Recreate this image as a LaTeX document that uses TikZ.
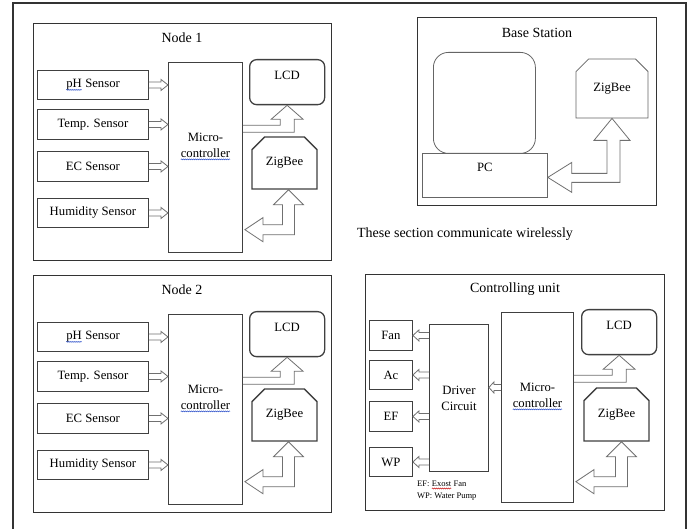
\documentclass[tikz,border=0pt]{standalone}
\usepackage{fontspec}
\setmainfont{Liberation Serif}
\usetikzlibrary{calc,shapes.misc,decorations.pathmorphing}
\definecolor{lc}{HTML}{333333}
\definecolor{bc}{HTML}{404040}
\definecolor{ac}{HTML}{707070}
\definecolor{spb}{HTML}{3355CC}
\definecolor{spr}{HTML}{CC2222}
\newcommand{\fs}{\fontsize{12.7}{16}\selectfont}
\newcommand{\ft}{\fontsize{14}{17}\selectfont}
\newcommand{\fl}{\fontsize{8.5}{11}\selectfont}
\newcommand{\wavy}[2]{\tikz[baseline=(w.base),x=1pt,y=1pt]{\node[shape=rectangle,draw=none,fill=none,inner sep=0pt,outer sep=0pt,minimum width=0pt,minimum height=0pt,anchor=base,rounded corners=0pt](w){#2};\draw[draw=#1,line width=0.5pt,decorate,decoration={snake,amplitude=0.5pt,segment length=2pt}]($(w.base west)+(0,-2.2)$)--($(w.base east)+(0,-2.2)$);}}
\tikzset{
  frame/.style={draw=lc,line width=1.2pt,inner sep=0pt,anchor=north west},
  box/.style={draw=bc,line width=0.9pt,inner sep=0pt,anchor=north west,font=\fs},
  lcdbox/.style={box,line width=1.3pt,rounded corners=7pt},
  zigbox/.style={box,line width=1.4pt,shape=chamfered rectangle,chamfered rectangle corners={north west,north east},chamfered rectangle xsep=7pt,chamfered rectangle ysep=7pt,anchor=center},
  thinbox/.style={box,draw=ac!90!black,line width=0.8pt},
  txt/.style={inner sep=0pt,font=\fs,align=center},
  ttl/.style={inner sep=0pt,font=\ft},
  barrow/.style={draw=ac,line width=0.8pt,line join=miter}
}
% straight hollow arrow: tail, tip, signed head length
\newcommand{\harr}[3]{\draw[barrow] ($(#1)+(0,-3)$) -- ($(#2)+(#3,-3)$) -- ($(#2)+(#3,-5.5)$) -- (#2) -- ($(#2)+(#3,5.5)$) -- ($(#2)+(#3,3)$) -- ($(#1)+(0,3)$);}
% L arrow from microcontroller up to LCD
\newcommand{\lcdarr}[2]{%
  \coordinate (la) at ($(#2.south)+(0,20)$);
  \coordinate (lb) at ($(#2.south)+(0,27)$);
  \coordinate (lam) at (la -| #1.east);
  \coordinate (lbm) at (lb -| #1.east);
  \draw[barrow] (lam) -- ($(#2.south)+(-7,20)$) -- ($(#2.south)+(-7,14)$) -- ($(#2.south)+(-16,14)$) -- (#2.south) -- ($(#2.south)+(16,14)$) -- ($(#2.south)+(7,14)$) -- ($(#2.south)+(7,27)$) -- (lbm);}
% double L arrow between ZigBee and microcontroller
\newcommand{\zigarr}[3]{%
  \coordinate (zt) at ($(#2.south)+(#3,0)$);
  \coordinate (zm) at (zt -| #1.east);
  \coordinate (zl) at ($(zm)+(2,40)$);
  \draw[barrow] (zl) -- ($(zl)+(18,-12)$) -- ($(zl)+(18,-5)$) -- ($(zt)+(-6,35)$) -- ($(zt)+(-6,15)$) -- ($(zt)+(-15,15)$) -- (zt) -- ($(zt)+(15,15)$) -- ($(zt)+(6,15)$) -- ($(zt)+(6,45)$) -- ($(zl)+(18,5)$) -- ($(zl)+(18,12)$) -- cycle;}
% sensor node group
\newcommand{\sensorgroup}[1]{%
  \node[frame,minimum width=298,minimum height=237] (fr) at (33,23) {};
  \node[ttl] (ti) at (182,38) {#1};
  \node[box,minimum width=111,minimum height=29] (s1) at (37,70) {\wavy{spb}{pH} Sensor};
  \node[box,minimum width=111,minimum height=30] (s2) at (37,109) {Temp. Sensor};
  \node[box,minimum width=111,minimum height=30] (s3) at (37,151) {EC Sensor};
  \node[box,minimum width=111,minimum height=29] (s4) at (37,198) {Humidity Sensor};
  \node[box,minimum width=74,minimum height=190] (mcu) at (168,62) {};
  \node[txt] (mt) at ($(mcu.center)+(0,-11)$) {Micro-\\\wavy{spb}{controller}};
  \node[lcdbox,minimum width=75,minimum height=45] (lcd) at (249,59) {};
  \node[txt] (lt) at ($(lcd.north)+(0,16)$) {LCD};
  \node[zigbox,minimum width=65,minimum height=52] (zig) at (284.5,163) {ZigBee};
  \foreach \i in {1,2,3,4}{
    \coordinate (t\i) at (s\i.east -| mcu.west);
    \harr{s\i.east}{t\i}{-7}
  }
  \lcdarr{mcu}{lcd}
  \zigarr{mcu}{zig}{4}
}
\begin{document}
\begin{tikzpicture}[x=1pt,y=-1pt]
\useasboundingbox (0,0) rectangle (691,529);
\fill[white] (0,0) rectangle (691,529);
% outer frame
\draw[draw=lc,line width=1.1pt] (13,529) -- (13,3) -- (686,3) -- (686,529);

\begin{scope}[name prefix=n1-]
  \sensorgroup{Node 1}
\end{scope}
\begin{scope}[shift={(0,252)},name prefix=n2-]
  \sensorgroup{Node 2}
\end{scope}

% base station
\node[frame,minimum width=239,minimum height=188] (bsf) at (417,17) {};
\node[ttl] (bst) at (537,33) {Base Station};
\node[thinbox,rounded corners=15pt,minimum width=102,minimum height=101] (mon) at (433,52) {};
\node[thinbox,minimum width=125,minimum height=44] (pc) at (422,153) {};
\node[txt] (pct) at ($(pc.center)+(0,-8)$) {PC};
\node[zigbox,draw=ac!90!black,line width=0.8pt,minimum width=72,minimum height=59] (bzig) at (612,88.5) {ZigBee};
\coordinate (bz) at (bzig.south);
\coordinate (pa) at ($(pc.east)+(0,2)$);
\draw[barrow] (pa) -- ($(pa)+(24,-15)$) -- ($(pa)+(24,-4)$) -- ($(bz)+(-5,55)$) -- ($(bz)+(-5,22)$) -- ($(bz)+(-18,22)$) -- (bz) -- ($(bz)+(18,22)$) -- ($(bz)+(8,22)$) -- ($(bz)+(8,64)$) -- ($(pa)+(24,5)$) -- ($(pa)+(24,15)$) -- cycle;

\node[ttl] (wl) at (465,234) {These section communicate wirelessly};

% controlling unit
\begin{scope}[name prefix=c-]
  \node[frame,minimum width=299,minimum height=236] (fr) at (365,274) {};
  \node[ttl] (ti) at (515,289) {Controlling unit};
  \node[box,minimum width=43,minimum height=30] (fan) at (369,320) {Fan};
  \node[box,minimum width=43,minimum height=29] (ac) at (369,360) {Ac};
  \node[box,minimum width=43,minimum height=30] (ef) at (369,401) {EF};
  \node[box,minimum width=43,minimum height=29] (wp) at (369,447) {WP};
  \node[box,minimum width=59,minimum height=147,align=center] (drv) at (429,324) {Driver\\Circuit};
  \node[box,minimum width=72,minimum height=190] (mcu) at (501,312) {};
  \node[txt] (mt) at ($(mcu.center)+(0,-11)$) {Micro-\\\wavy{spb}{controller}};
  \node[lcdbox,minimum width=75,minimum height=45] (lcd) at (581,309) {};
  \node[txt] (lt) at ($(lcd.north)+(0,16)$) {LCD};
  \node[zigbox,minimum width=65,minimum height=53] (zig) at (616.5,414.5) {ZigBee};
  \foreach \d in {fan,ac,ef,wp}{
    \coordinate (o\d) at (\d.east -| drv.west);
    \harr{o\d}{\d.east}{6}
  }
  \coordinate (md) at ($(mcu.west)+(0,-20)$);
  \coordinate (mdt) at (md -| drv.east);
  \harr{md}{mdt}{5}
  \lcdarr{mcu}{lcd}
  \zigarr{mcu}{zig}{5}
  \node[inner sep=0pt,font=\fl,anchor=west] (lg1) at (417,485) {EF: \wavy{spr}{Exost} Fan};
  \node[inner sep=0pt,font=\fl,anchor=west] (lg2) at (417,497) {WP: Water Pump};
\end{scope}
\end{tikzpicture}
\end{document}
